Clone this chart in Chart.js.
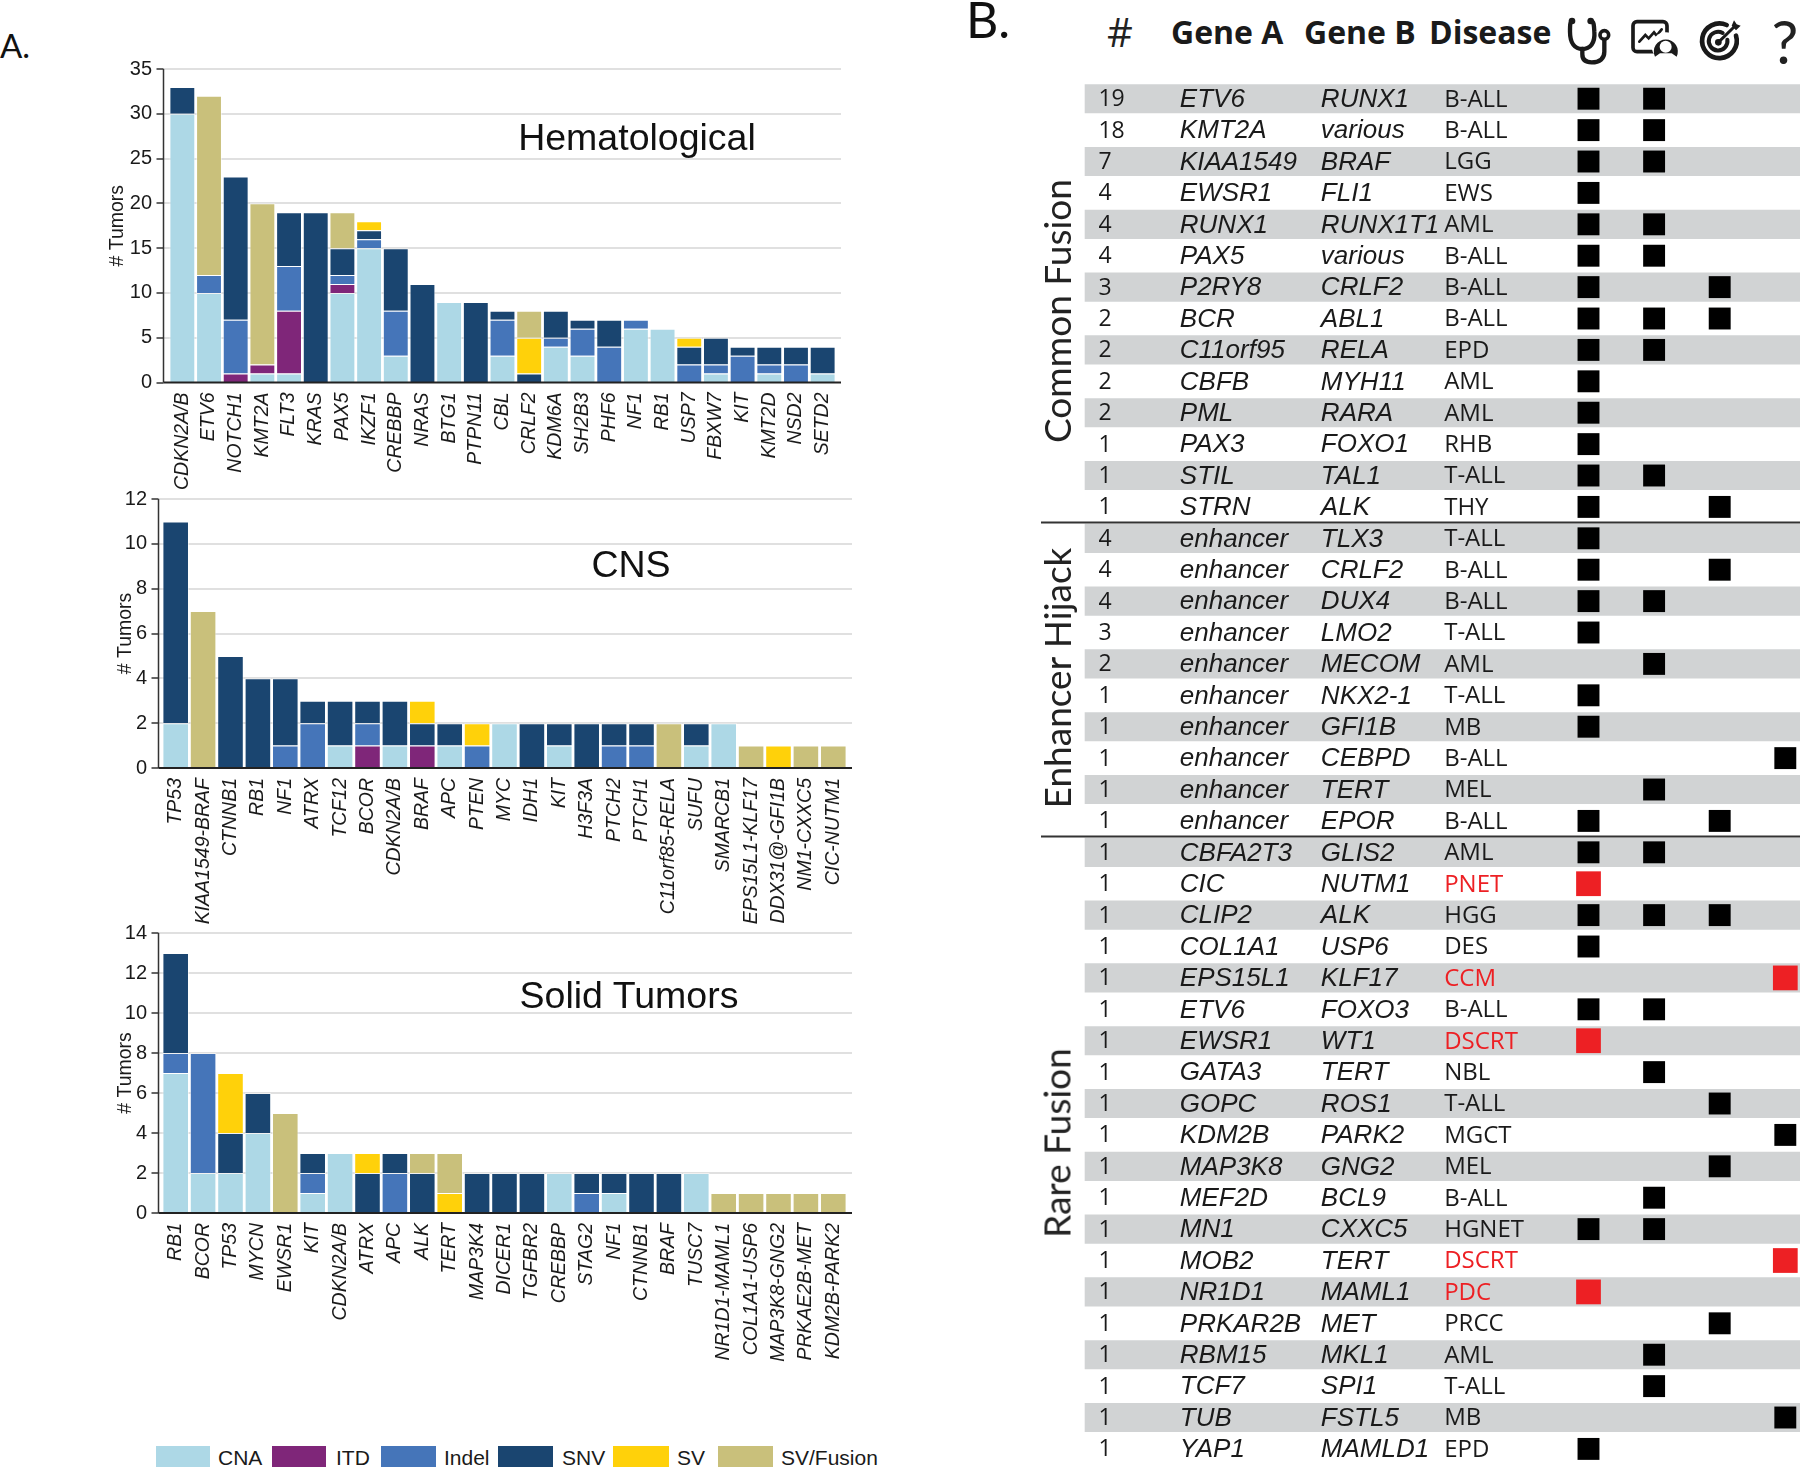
<!DOCTYPE html>
<html>
<head>
<meta charset="utf-8">
<title>Gene alterations and fusions</title>
<script src="https://cdn.jsdelivr.net/npm/chart.js@4/dist/chart.umd.js"></script>
<style>
  html, body { margin: 0; padding: 0; background: #fff; }
  body { position: relative; width: 1800px; height: 1467px; overflow: hidden; }
  canvas { position: absolute; }
  .lbl { position: absolute; white-space: nowrap; color: #111; line-height: 1; transform: translate(-50%, -50%); }
  .side { font-family: Lato, sans-serif; font-size: 37px; color: #222; transform: translate(-50%, -50%) rotate(-90deg); }
  .head { font-family: "Open Sans", sans-serif; font-weight: 700; font-size: 32px; color: #1a1a1a; transform: translateY(-50%); }
  .swatch { position: absolute; top: 1446px; height: 21px; }
  .legtxt { font-family: "Liberation Sans", sans-serif; font-size: 21px; color: #1a1a1a; transform: translateY(-50%); top: 1457px; }
</style>
</head>
<body>
<canvas id="hemeChart" width="736" height="450" style="left:106px;top:50px"></canvas>
<canvas id="cnsChart" width="739" height="460" style="left:114px;top:480px"></canvas>
<canvas id="solidChart" width="739" height="460" style="left:114px;top:914px"></canvas>
<canvas id="fusionChart" width="759" height="1387" style="left:1041px;top:80px"></canvas>

<div class="lbl" style="left:15px;top:45px;font-family:Lato,sans-serif;font-size:33px;">A.</div>
<div class="lbl" style="left:988px;top:19px;font-family:Lato,sans-serif;font-size:50px;">B.</div>
<div class="lbl" style="left:637px;top:138px;font-family:'Liberation Sans',sans-serif;font-size:37.5px;">Hematological</div>
<div class="lbl" style="left:631px;top:565px;font-family:'Liberation Sans',sans-serif;font-size:37.5px;">CNS</div>
<div class="lbl" style="left:629px;top:996px;font-family:'Liberation Sans',sans-serif;font-size:37.5px;">Solid Tumors</div>

<div class="lbl side" style="left:1056px;top:311px;">Common Fusion</div>
<div class="lbl side" style="left:1056px;top:678px;">Enhancer Hijack</div>
<div class="lbl side" style="left:1056px;top:1143px;">Rare Fusion</div>

<div class="lbl" style="left:1120px;top:32px;font-family:'Open Sans',sans-serif;font-size:40px;color:#222;">#</div>
<div class="lbl head" style="left:1171px;top:32px;">Gene A</div>
<div class="lbl head" style="left:1304px;top:32px;">Gene B</div>
<div class="lbl head" style="left:1429px;top:32px;">Disease</div>
<div class="lbl" style="left:1785px;top:41px;font-family:Lato,sans-serif;font-size:60px;color:#222;">?</div>

<svg style="position:absolute;left:1550px;top:5px" width="230" height="70" viewBox="0 0 690 210">
  <g fill="none" stroke="#1a1a1a" stroke-linecap="round">
    <path stroke-width="13" d="M66 48 C60 50 60 62 60 80 C60 115 75 132 97 132 C120 132 136 115 133 80 C132 62 132 50 124 48"/>
    <path stroke-width="13" d="M97 132 L97 148 C97 168 110 172 125 172 C150 172 163 160 163 140 L163 106"/>
    <circle cx="163" cy="90" r="13" stroke-width="11"/>
    <rect x="249" y="50" width="102" height="90" rx="12" stroke-width="11"/>
    <path stroke-width="8" d="M268 110 L286 90 L296 100 L312 82 L320 92 L335 73"/>
    <path stroke-width="14" d="M530 60 A52 52 0 1 0 558 92"/>
    <path stroke-width="12" d="M518 84 A28 28 0 1 0 532 104"/>
    <path stroke-width="9" d="M505 112 L552 66"/>
  </g>
  <circle cx="66" cy="48" r="10" fill="#1a1a1a"/>
  <circle cx="122" cy="48" r="10" fill="#1a1a1a"/>
  <circle cx="347" cy="124" r="42" fill="#fff"/>
  <path d="M315 155 A36 36 0 1 1 380 155 L365 145 L330 145 Z" fill="#1a1a1a"/>
  <circle cx="347" cy="125" r="18" fill="#fff"/>
  <circle cx="505" cy="112" r="10" fill="#1a1a1a"/>
  <path d="M545 62 L552 46 L560 58 L572 62 L558 76 Z" fill="#1a1a1a"/>
</svg>

<div class="swatch" style="left:156px;width:54px;background:#add8e6"></div>
<div class="lbl legtxt" style="left:218px;">CNA</div>
<div class="swatch" style="left:272px;width:54px;background:#7f2679"></div>
<div class="lbl legtxt" style="left:336px;">ITD</div>
<div class="swatch" style="left:381px;width:55px;background:#4575b9"></div>
<div class="lbl legtxt" style="left:444px;">Indel</div>
<div class="swatch" style="left:498px;width:55px;background:#1a4570"></div>
<div class="lbl legtxt" style="left:562px;">SNV</div>
<div class="swatch" style="left:613px;width:56px;background:#ffd10a"></div>
<div class="lbl legtxt" style="left:677px;">SV</div>
<div class="swatch" style="left:718px;width:55px;background:#c9c07b"></div>
<div class="lbl legtxt" style="left:781px;">SV/Fusion</div>

<script>
// Panel A values, one array per alteration type
const hemeGenes = ['CDKN2A/B','ETV6','NOTCH1','KMT2A','FLT3','KRAS','PAX5','IKZF1','CREBBP','NRAS','BTG1','PTPN11','CBL','CRLF2','KDM6A','SH2B3','PHF6','NF1','RB1','USP7','FBXW7','KIT','KMT2D','NSD2','SETD2'];
const hemeCNA    = [30,10,0,1,1,0,10,15,3,0,9,0,3,0,4,3,0,6,6,0,1,0,1,0,1];
const hemeITD    = [0,0,1,1,7,0,1,0,0,0,0,0,0,0,0,0,0,0,0,0,0,0,0,0,0];
const hemeIndel  = [0,2,6,0,5,0,1,1,5,0,0,0,4,0,1,3,4,1,0,2,1,3,1,2,0];
const hemeSNV    = [3,0,16,0,6,19,3,1,7,11,0,9,1,1,3,1,3,0,0,2,3,1,2,2,3];
const hemeSV     = [0,0,0,0,0,0,0,1,0,0,0,0,0,4,0,0,0,0,0,1,0,0,0,0,0];
const hemeFusion = [0,20,0,18,0,0,4,0,0,0,0,0,0,3,0,0,0,0,0,0,0,0,0,0,0];

const cnsGenes = ['TP53','KIAA1549-BRAF','CTNNB1','RB1','NF1','ATRX','TCF12','BCOR','CDKN2A/B','BRAF','APC','PTEN','MYC','IDH1','KIT','H3F3A','PTCH2','PTCH1','C11orf85-RELA','SUFU','SMARCB1','EPS15L1-KLF17','DDX31@-GFI1B','NM1-CXXC5','CIC-NUTM1'];
const cnsCNA    = [2,0,0,0,0,0,1,0,1,0,1,0,2,0,1,0,0,0,0,1,2,0,0,0,0];
const cnsITD    = [0,0,0,0,0,0,0,1,0,1,0,0,0,0,0,0,0,0,0,0,0,0,0,0,0];
const cnsIndel  = [0,0,0,0,1,2,0,1,0,0,0,1,0,0,0,0,1,1,0,0,0,0,0,0,0];
const cnsSNV    = [9,0,5,4,3,1,2,1,2,1,1,0,0,2,1,2,1,1,0,1,0,0,0,0,0];
const cnsSV     = [0,0,0,0,0,0,0,0,0,1,0,1,0,0,0,0,0,0,0,0,0,0,1,0,0];
const cnsFusion = [0,7,0,0,0,0,0,0,0,0,0,0,0,0,0,0,0,0,2,0,0,1,0,1,1];

const solidGenes = ['RB1','BCOR','TP53','MYCN','EWSR1','KIT','CDKN2A/B','ATRX','APC','ALK','TERT','MAP3K4','DICER1','TGFBR2','CREBBP','STAG2','NF1','CTNNB1','BRAF','TUSC7','NR1D1-MAML1','COL1A1-USP6','MAP3K8-GNG2','PRKAE2B-MET','KDM2B-PARK2'];
const solidCNA    = [7,2,2,4,0,1,3,0,0,0,0,0,0,0,2,0,1,0,0,2,0,0,0,0,0];
const solidITD    = [0,0,0,0,0,0,0,0,0,0,0,0,0,0,0,0,0,0,0,0,0,0,0,0,0];
const solidIndel  = [1,6,0,0,0,1,0,0,2,0,0,0,0,0,0,1,0,0,0,0,0,0,0,0,0];
const solidSNV    = [5,0,2,2,0,1,0,2,1,2,0,2,2,2,0,1,1,2,2,0,0,0,0,0,0];
const solidSV     = [0,0,3,0,0,0,0,1,0,0,1,0,0,0,0,0,0,0,0,0,0,0,0,0,0];
const solidFusion = [0,0,0,0,5,0,0,0,0,1,2,0,0,0,0,0,0,0,0,0,1,1,1,1,1];

// Panel B table
const rowCounts = [19,18,7,4,4,4,3,2,2,2,2,1,1,1,4,4,4,3,2,1,1,1,1,1,1,1,1,1,1,1,1,1,1,1,1,1,1,1,1,1,1,1,1,1];
const rowGeneA = ['ETV6','KMT2A','KIAA1549','EWSR1','RUNX1','PAX5','P2RY8','BCR','C11orf95','CBFB','PML','PAX3','STIL','STRN',
  'enhancer','enhancer','enhancer','enhancer','enhancer','enhancer','enhancer','enhancer','enhancer','enhancer',
  'CBFA2T3','CIC','CLIP2','COL1A1','EPS15L1','ETV6','EWSR1','GATA3','GOPC','KDM2B','MAP3K8','MEF2D','MN1','MOB2','NR1D1','PRKAR2B','RBM15','TCF7','TUB','YAP1'];
const rowGeneB = ['RUNX1','various','BRAF','FLI1','RUNX1T1','various','CRLF2','ABL1','RELA','MYH11','RARA','FOXO1','TAL1','ALK',
  'TLX3','CRLF2','DUX4','LMO2','MECOM','NKX2-1','GFI1B','CEBPD','TERT','EPOR',
  'GLIS2','NUTM1','ALK','USP6','KLF17','FOXO3','WT1','TERT','ROS1','PARK2','GNG2','BCL9','CXXC5','TERT','MAML1','MET','MKL1','SPI1','FSTL5','MAMLD1'];
const rowDisease = ['B-ALL','B-ALL','LGG','EWS','AML','B-ALL','B-ALL','B-ALL','EPD','AML','AML','RHB','T-ALL','THY',
  'T-ALL','B-ALL','B-ALL','T-ALL','AML','T-ALL','MB','B-ALL','MEL','B-ALL',
  'AML','PNET','HGG','DES','CCM','B-ALL','DSCRT','NBL','T-ALL','MGCT','MEL','B-ALL','HGNET','DSCRT','PDC','PRCC','AML','T-ALL','MB','EPD'];
const diagnosisRows = [0,1,2,3,4,5,6,7,8,9,10,11,12,13,14,15,16,17,19,20,23,24,26,27,29,36,43];
const prognosisRows = [0,1,2,4,5,7,8,12,16,18,22,24,26,29,31,35,36,40,41];
const therapyRows = [6,7,13,15,23,26,32,34,39];
const unknownRows = [21,33,42];
const redDiagnosisRows = [25,30,38];
const redUnknownRows = [28,37];
const bandRows = [0,2,4,6,8,10,12,14,16,18,20,22,24,26,28,30,32,34,36,38,40,42];

const typeNames = ['CNA','ITD','Indel','SNV','SV','SV/Fusion'];
const typeColors = ['#add8e6','#7f2679','#4575b9','#1a4570','#ffd10a','#c9c07b'];

Chart.defaults.font.family = '"Liberation Sans", sans-serif';
Chart.defaults.animation = false;

// grid, ticks and axis lines run a little past the bars, so they are drawn by hand off the scales
const framePlugin = {
  id: 'frame',
  beforeDatasetsDraw(chart, args, opts) {
    const { ctx, chartArea, scales } = chart;
    const left = chartArea.left - opts.inset;
    const right = chartArea.right + 5;
    ctx.save();
    scales.y.ticks.forEach((tick) => {
      const y = Math.round(scales.y.getPixelForValue(tick.value));
      if (tick.value > 0) {
        ctx.strokeStyle = '#e0e0e0';
        ctx.lineWidth = 2;
        ctx.beginPath();
        ctx.moveTo(left, y);
        ctx.lineTo(right, y);
        ctx.stroke();
      }
      ctx.strokeStyle = '#333';
      ctx.lineWidth = 1.5;
      ctx.beginPath();
      ctx.moveTo(left - 7, y);
      ctx.lineTo(left, y);
      ctx.stroke();
    });
    ctx.strokeStyle = '#333';
    ctx.lineWidth = 1.5;
    ctx.beginPath();
    ctx.moveTo(left, chartArea.top);
    ctx.lineTo(left, chartArea.bottom);
    ctx.stroke();
    ctx.restore();
  },
  afterDatasetsDraw(chart, args, opts) {
    const { ctx, chartArea } = chart;
    ctx.save();
    ctx.strokeStyle = '#222';
    ctx.lineWidth = 2;
    ctx.beginPath();
    ctx.moveTo(chartArea.left - opts.inset, chartArea.bottom);
    ctx.lineTo(chartArea.right + 5, chartArea.bottom);
    ctx.stroke();
    ctx.restore();
  },
};

function drawStacked(id, genes, series, yMax, yStep, yWidth, xHeight, inset, tickPad) {
  new Chart(document.getElementById(id), {
    type: 'bar',
    data: {
      labels: genes,
      datasets: series.map((values, i) => ({
        label: typeNames[i],
        data: values,
        backgroundColor: typeColors[i],
        borderColor: 'rgba(255,255,255,0.55)',
        borderWidth: 1,
        categoryPercentage: 0.97,
        barPercentage: 1,
      })),
    },
    options: {
      responsive: false,
      layout: { autoPadding: false, padding: { top: 19, right: 6, left: 0, bottom: 0 } },
      plugins: { legend: { display: false }, tooltip: { enabled: false }, frame: { inset } },
      scales: {
        x: {
          stacked: true,
          grid: { display: false, drawTicks: false },
          border: { display: false },
          afterFit(scale) {
            scale.height = xHeight;
            scale.paddingLeft = 0;
            scale.paddingRight = 0;
          },
          ticks: {
            autoSkip: false,
            minRotation: 90,
            maxRotation: 90,
            padding: 10,
            color: '#1a1a1a',
            font: { size: 19.5, style: 'italic' },
          },
        },
        y: {
          stacked: true,
          min: 0,
          max: yMax,
          grid: { display: false, drawTicks: false },
          border: { display: false },
          afterFit(scale) {
            scale.width = yWidth;
            scale.paddingTop = 0;
            scale.paddingBottom = 0;
          },
          title: { display: true, text: '# Tumors', color: '#1a1a1a', font: { size: 19.5 }, padding: 0 },
          ticks: { stepSize: yStep, padding: tickPad, color: '#1a1a1a', font: { size: 20 } },
        },
      },
    },
    plugins: [framePlugin],
  });
}

drawStacked('hemeChart', hemeGenes, [hemeCNA, hemeITD, hemeIndel, hemeSNV, hemeSV, hemeFusion], 35, 5, 63, 117.5, 5.5, 17);
drawStacked('cnsChart', cnsGenes, [cnsCNA, cnsITD, cnsIndel, cnsSNV, cnsSV, cnsFusion], 12, 2, 48, 172, 3.5, 15);
drawStacked('solidChart', solidGenes, [solidCNA, solidITD, solidIndel, solidSNV, solidSV, solidFusion], 14, 2, 48, 161, 3.5, 15);

// x positions of the text columns, in icon-column units on the table's x scale
const countCol = -6.47;
const geneACol = -5.23;
const geneBCol = -3.08;
const diseaseCol = -1.2;
const allRed = redDiagnosisRows.concat(redUnknownRows);

const tableTextPlugin = {
  id: 'tableText',
  afterDatasetsDraw(chart) {
    const { ctx, scales } = chart;
    ctx.save();
    ctx.textBaseline = 'middle';
    ctx.textAlign = 'left';
    rowGeneA.forEach((geneA, i) => {
      const y = scales.y.getPixelForValue(i) + 1;
      ctx.fillStyle = '#1a1a1a';
      ctx.font = '23px "Open Sans", sans-serif';
      ctx.fillText(String(rowCounts[i]), scales.x.getPixelForValue(countCol), y);
      ctx.font = 'italic 26px "Liberation Sans", sans-serif';
      ctx.fillText(geneA, scales.x.getPixelForValue(geneACol), y);
      ctx.fillText(rowGeneB[i], scales.x.getPixelForValue(geneBCol), y);
      ctx.fillStyle = allRed.includes(i) ? '#ed2024' : '#1a1a1a';
      ctx.font = '24px "Open Sans", sans-serif';
      ctx.fillText(rowDisease[i], scales.x.getPixelForValue(diseaseCol), y);
    });
    // group rules between rows 13/14 and 23/24
    [13.5, 23.5].forEach((v) => {
      const y = scales.y.getPixelForValue(v);
      ctx.strokeStyle = '#333';
      ctx.lineWidth = 2;
      ctx.beginPath();
      ctx.moveTo(0, y);
      ctx.lineTo(chart.width, y);
      ctx.stroke();
    });
    ctx.restore();
  },
};

function markSet(label, rows, col, color, radius) {
  return {
    type: 'scatter',
    label,
    data: rows.map((row) => ({ x: col, y: row })),
    pointStyle: 'rect',
    pointRadius: radius,
    backgroundColor: color,
    borderWidth: 0,
    order: 1,
  };
}

new Chart(document.getElementById('fusionChart'), {
  data: {
    datasets: [
      {
        type: 'bar',
        label: 'rows',
        indexAxis: 'y',
        data: bandRows.map((row) => ({ x: [-6.675, 4.3], y: row })),
        backgroundColor: '#d1d3d4',
        barThickness: 28.5,
        order: 2,
      },
      markSet('diagnosis', diagnosisRows, 1, '#000', 15.5),
      markSet('prognosis', prognosisRows, 2, '#000', 15.5),
      markSet('therapy', therapyRows, 3, '#000', 15.5),
      markSet('unknown', unknownRows, 4, '#000', 15.5),
      markSet('diagnosis new', redDiagnosisRows, 1, '#ed2024', 17.5),
      markSet('unknown new', redUnknownRows, 4, '#ed2024', 17.5),
    ],
  },
  options: {
    responsive: false,
    layout: { autoPadding: false, padding: 0 },
    plugins: { legend: { display: false }, tooltip: { enabled: false } },
    scales: {
      x: { type: 'linear', display: false, offset: false, min: -7.346, max: 4.224 },
      y: { type: 'linear', display: false, offset: false, reverse: true, min: -0.596, max: 43.576 },
    },
  },
  plugins: [tableTextPlugin],
});
</script>
</body>
</html>
